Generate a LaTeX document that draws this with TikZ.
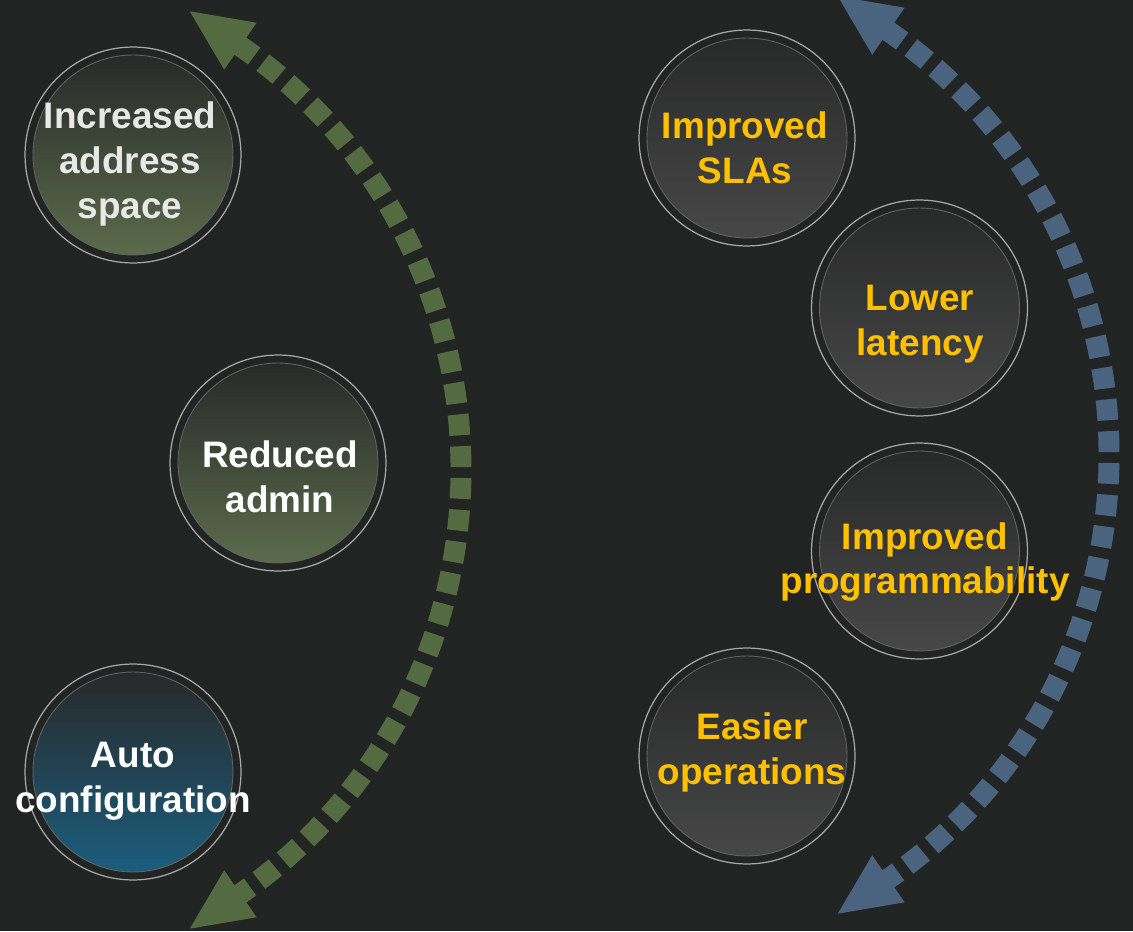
\documentclass[tikz,border=0pt]{standalone}
\usepackage{fontspec}
\setmainfont{Liberation Sans}
\usetikzlibrary{arrows.meta}

\definecolor{bgdark}{HTML}{222423}
\definecolor{arcgreen}{HTML}{546A40}
\definecolor{arcblue}{HTML}{4A6480}
\definecolor{ringgray}{HTML}{A8A8A8}
\definecolor{edgegray}{HTML}{626262}
\definecolor{discdark}{HTML}{282929}
\definecolor{discgreen}{HTML}{5B6B4B}
\definecolor{discblue}{HTML}{1B5D7D}
\definecolor{discgray}{HTML}{474747}
\definecolor{gold}{HTML}{FFC000}
\definecolor{lighttext}{HTML}{E8E8E8}

\tikzset{
  ring/.style={circle,draw=ringgray,line width=0.7pt,minimum size=4.32cm,inner sep=0pt},
  disc/.style={circle,draw=edgegray,line width=0.5pt,minimum size=4.0cm,inner sep=0pt,top color=discdark},
  greendisc/.style={disc,bottom color=discgreen},
  bluedisc/.style={disc,bottom color=discblue},
  graydisc/.style={disc,bottom color=discgray},
  arcline/.style={line width=11.9pt,dash pattern=on 11.9pt off 6.2pt,
    {Triangle[length=36.3pt,width=29.5pt]}-{Triangle[length=36.3pt,width=29.5pt]}},
  benefit/.style={align=center,inner sep=0pt,font=\bfseries\fontsize{21}{25.5}\selectfont}
}

\begin{document}
\begin{tikzpicture}[line cap=butt,line join=miter,x=0.02cm,y=0.02cm]
\useasboundingbox (0,0) rectangle (1133,931);
\fill[bgdark] (0,0) rectangle (1133,931);

% dashed arcs
\begin{scope}[shift={(-39,461)}]
\draw[arcline,arcgreen] (56:500 and 511) ++(145.4:64) -- (56:500 and 511)
  arc[start angle=56,end angle=-56,x radius=500,y radius=511] -- ++(-145.4:64);
\end{scope}
\begin{scope}[shift={(609,476)}]
\draw[arcline,arcblue] (56:500 and 511) ++(145.4:64) -- (56:500 and 511)
  arc[start angle=56,end angle=-56,x radius=500,y radius=511] -- ++(-145.4:64);
\end{scope}

% left bubbles
\node[ring] (addr) at (133,776) {};
\node[greendisc] at (addr) {};
\node[ring] (admin) at (278,468) {};
\node[greendisc] at (admin) {};
\node[ring] (auto) at (133,159) {};
\node[bluedisc] at (auto) {};

% right bubbles
\node[ring] (sla) at (747,793) {};
\node[graydisc] at (sla) {};
\node[ring] (latency) at (919.5,623) {};
\node[graydisc] at (latency) {};
\node[ring] (prog) at (919.5,380) {};
\node[graydisc] at (prog) {};
\node[ring] (ops) at (747,175) {};
\node[graydisc] at (ops) {};

\node[benefit,lighttext] (t-addr) at (130,767) {Increased\\address\\space};
\node[benefit,white] (t-admin) at (280,454) {Reduced\\admin};
\node[benefit,white] (t-auto) at (133,150) {Auto\\configuration};
\node[benefit,gold] (t-sla) at (745,783.5) {Improved\\SLAs};
\node[benefit,gold] (t-latency) at (920,606.5) {Lower\\latency};
\node[benefit,gold] (t-prog) at (925,369) {Improved\\programmability};
\node[benefit,gold] (t-ops) at (752,178.5) {Easier\\operations};
\end{tikzpicture}
\end{document}
